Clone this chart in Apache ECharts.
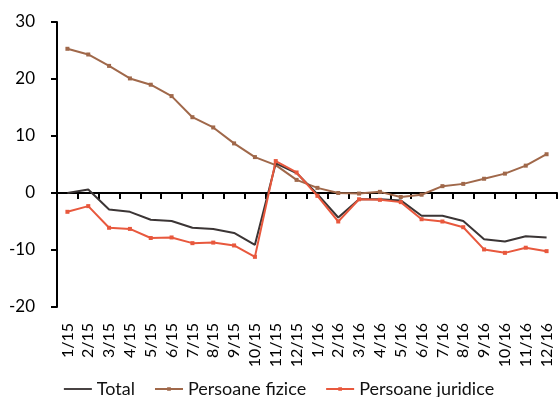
<!DOCTYPE html>
<html><head><meta charset="utf-8">
<script src="https://cdn.jsdelivr.net/npm/echarts@6/dist/echarts.min.js"></script>
<style>html,body{margin:0;padding:0;background:#fff}#c{width:558px;height:397px}</style>
</head><body><div id="c"></div>
<script>
var categories = ['1/15','2/15','3/15','4/15','5/15','6/15','7/15','8/15','9/15','10/15','11/15','12/15','1/16','2/16','3/16','4/16','5/16','6/16','7/16','8/16','9/16','10/16','11/16','12/16'];
var total = [0.0,0.6,-2.9,-3.3,-4.7,-4.9,-6.1,-6.3,-7.0,-9.1,5.2,3.5,-0.2,-4.3,-1.1,-1.1,-1.3,-4.0,-4.0,-4.9,-8.1,-8.5,-7.6,-7.8];
var fizice = [25.3,24.3,22.3,20.1,19.0,17.0,13.3,11.5,8.7,6.3,4.9,2.3,0.9,0.0,-0.1,0.2,-0.7,-0.3,1.2,1.6,2.5,3.4,4.8,6.8];
var juridice = [-3.3,-2.3,-6.1,-6.3,-7.9,-7.8,-8.8,-8.7,-9.2,-11.2,5.6,3.6,-0.5,-5.0,-1.1,-1.2,-1.6,-4.6,-5.0,-6.0,-9.9,-10.5,-9.6,-10.2];
var yTicks = {min:-20, max:30, interval:10};
var seriesNames = ['Total','Persoane fizice','Persoane juridice'];

var FONT = 'Lato';
var lineIcon = 'path://M0,4L30,4L30,6L0,6Z';
var markIcon = 'path://M0,4L13,4L13,3L17,3L17,4L30,4L30,6L17,6L17,7L13,7L13,6L0,6Z';
var chart = echarts.init(document.getElementById('c'), null, {renderer:'canvas'});
chart.setOption({
  animation:false,
  textStyle:{fontFamily:FONT},
  grid:{left:57, right:1, top:22, bottom:90, containLabel:false},
  legend:{
    top:375, left:'center', itemWidth:28, itemHeight:10, itemGap:20,
    textStyle:{fontFamily:FONT, fontSize:18, color:'#111'},
    data:[
      {name:seriesNames[0], icon:lineIcon},
      {name:seriesNames[1], icon:markIcon},
      {name:seriesNames[2], icon:markIcon}
    ]
  },
  xAxis:[{
    type:'category', data:categories, boundaryGap:true,
    axisLine:{onZero:true, lineStyle:{color:'#000', width:2}},
    axisTick:{show:true, interval:0, length:6, lineStyle:{color:'#000', width:2}},
    axisLabel:{show:false}, splitLine:{show:false}
  },{
    type:'category', data:categories, boundaryGap:true, position:'bottom',
    axisLine:{show:false, onZero:false}, axisTick:{show:false},
    axisLabel:{interval:0, rotate:90, margin:16, fontSize:16, color:'#000', fontFamily:FONT},
    splitLine:{show:false}
  }],
  yAxis:{
    type:'value', min:yTicks.min, max:yTicks.max, interval:yTicks.interval,
    axisLine:{show:true, lineStyle:{color:'#000', width:2}},
    axisTick:{show:true, length:6, lineStyle:{color:'#000', width:2}},
    axisLabel:{fontSize:17, color:'#000', margin:22, fontFamily:FONT},
    splitLine:{show:false}
  },
  series:[
    {name:seriesNames[0], type:'line', data:total, symbol:'none', lineStyle:{color:'#3b3535', width:2}, itemStyle:{color:'#3b3535'}, z:3},
    {name:seriesNames[1], type:'line', data:fizice, symbol:'rect', symbolSize:4, showAllSymbol:true, lineStyle:{color:'#a0684a', width:2}, itemStyle:{color:'#a0684a'}, z:2},
    {name:seriesNames[2], type:'line', data:juridice, symbol:'rect', symbolSize:4, showAllSymbol:true, lineStyle:{color:'#e8583d', width:2}, itemStyle:{color:'#e8583d'}, z:4}
  ]
});
</script></body></html>
